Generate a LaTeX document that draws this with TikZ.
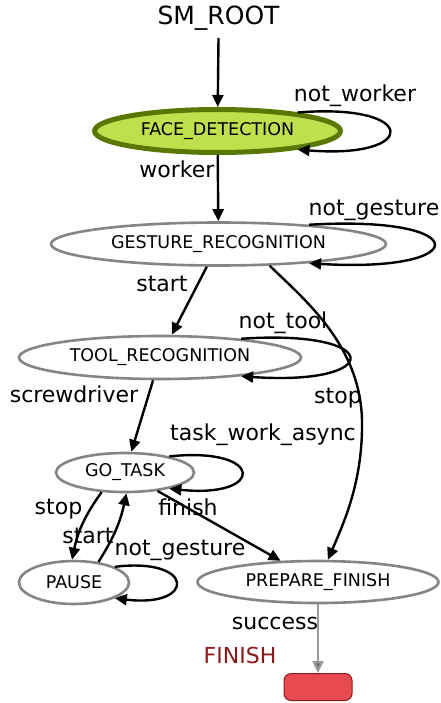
\documentclass[tikz,border=0pt]{standalone}
\usepackage{fontspec}
\setmainfont{DejaVu Sans}
\usetikzlibrary{arrows.meta,shapes.geometric}
\definecolor{fdfill}{HTML}{BFDF4C}
\definecolor{fdline}{HTML}{5A7800}
\definecolor{finfill}{HTML}{E84A52}
\definecolor{findark}{HTML}{8B1A1A}
\definecolor{stateline}{HTML}{858585}

\begin{document}
\begin{tikzpicture}[x=1pt,y=-1pt,
  state/.style={ellipse, draw=stateline, line width=2.6pt, fill=white, inner sep=0pt,
    font=\fontsize{17.5}{20}\selectfont},
  edge/.style={line width=2.4pt, -{Triangle[length=12pt,width=11pt]}},
  lbl/.style={font=\fontsize{22}{26}\selectfont, inner sep=0pt, anchor=base}]
\useasboundingbox (0,0) rectangle (441,703);

% container title
\node[font=\fontsize{25}{30}\selectfont, anchor=base, inner sep=0pt] (root) at (218.5,25) {SM\_ROOT};

% states
\node[state, fill=fdfill, draw=fdline, line width=5pt, minimum width=246pt, minimum height=43pt] (fd) at (217.5,131) {FACE\_DETECTION};
\node[state, minimum width=335pt, minimum height=43pt] (gr) at (218.5,244) {GESTURE\_RECOGNITION};
\node[state, minimum width=282pt, minimum height=43pt] (tr) at (160,357.5) {TOOL\_RECOGNITION};
\node[state, minimum width=138pt, minimum height=39pt] (gt) at (125,472.5) {GO\_TASK};
\node[state, minimum width=110pt, minimum height=43pt] (pa) at (74,582.5) {PAUSE};
\node[state, minimum width=241pt, minimum height=42pt] (pf) at (318,582) {PREPARE\_FINISH};

% outcome
\node[draw=findark, fill=finfill, line width=1pt, rounded corners=7pt,
      minimum width=68pt, minimum height=27pt, inner sep=0pt] (fin) at (318,687) {};
\node[lbl, text=findark] (finlbl) at (240,663) {FINISH};

% transitions
\draw[edge] ([yshift=-13pt]root.base) -- (fd);
\draw[edge] (fd.13) .. controls +(122,-10) and +(122,10) .. (fd.-13);
\node[lbl] (l1) at (355,102) {not\_worker};

\draw[edge] (fd) -- (gr);
\node[lbl] (l2) at (177,178) {worker};

\draw[edge] (gr.12) .. controls +(166,-10) and +(166,10) .. (gr.-12);
\node[lbl] (l3) at (374,215) {not\_gesture};

\draw[edge] (gr) -- (tr);
\node[lbl] (l4) at (162,291) {start};

\coordinate (stopbend) at (362,420);
\draw[edge] (gr.-23) .. controls (305,300) and (360,345) .. (stopbend)
            .. controls (363,480) and (345,520) .. (pf.66);
\node[lbl] (l5) at (338,403) {stop};

\draw[edge] (tr.13) .. controls +(144,-10) and +(144,10) .. (tr.-13);
\node[lbl] (l6) at (283,328) {not\_tool};

\draw[edge] (tr) -- (gt);
\node[lbl] (l7) at (74,402) {screwdriver};

\draw[edge] (gt.20) .. controls +(96,-10) and +(96,10) .. (gt.-20);
\node[lbl] (l8) at (263,440) {task\_work\_async};

\draw[edge] (gt.-140) to[bend right=12] (pa.95);
\node[lbl] (l9) at (58.5,514) {stop};

\draw[edge] (pa.40) to[bend right=10] (gt.-86);
\node[lbl] (l10) at (88,543) {start};

\draw[edge] (pa.21) .. controls +(81,-10) and +(81,10) .. (pa.-21);
\node[lbl] (l11) at (180,555) {not\_gesture};

\draw[edge] (gt) -- (pf);
\node[lbl] (l12) at (188,515) {finish};

\draw[line width=2.4pt, draw=black!40, -{Triangle[length=12pt,width=11pt,fill=black!60]}] (pf.south) -- (fin.north);
\node[lbl] (l13) at (275,629) {success};
\end{tikzpicture}
\end{document}
